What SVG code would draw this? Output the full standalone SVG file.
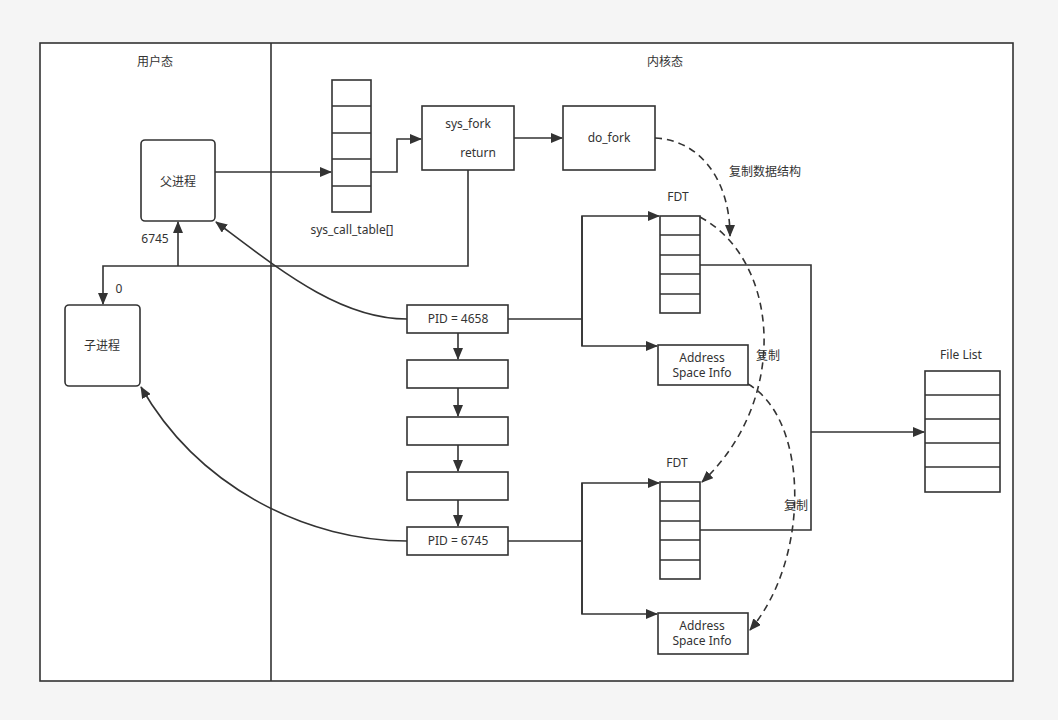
<svg xmlns="http://www.w3.org/2000/svg" width="1058" height="720" viewBox="0 0 1058 720">
<style>
.ln{fill:none;stroke:#333;stroke-width:1.6}
.ds{fill:none;stroke:#333;stroke-width:1.6;stroke-dasharray:7 5}
.bx{fill:#fff;stroke:#333;stroke-width:1.6}
text{font-family:"Noto Sans","Noto Sans CJK SC",sans-serif;font-size:12px;fill:#333;text-anchor:middle}
</style>
<defs>
<marker id="ah" markerWidth="12" markerHeight="10" refX="11" refY="5" orient="auto" markerUnits="userSpaceOnUse">
<path d="M0,0 L12,5 L0,10 Z" fill="#333"/>
</marker>
</defs>
<rect x="0" y="0" width="1058" height="720" fill="#f5f5f5"/>
<rect x="40" y="43" width="973" height="638" fill="#fff" stroke="#333" stroke-width="1.6"/>
<line x1="271" y1="43" x2="271" y2="681" stroke="#333" stroke-width="1.6"/>
<text x="155" y="66">用户态</text>
<text x="665" y="66">内核态</text>

<g id="parent"><rect class="bx" x="141" y="140" width="74" height="81" rx="4"/><text x="178" y="186">父进程</text></g>
<g id="child"><rect class="bx" x="65" y="305" width="75" height="81" rx="4"/><text x="102" y="350">子进程</text></g>
<g id="syscalltable">
<rect class="bx" x="332" y="80" width="39" height="132"/>
<path class="ln" d="M332,106H371M332,133H371M332,159H371M332,186H371"/>
<text x="352" y="234">sys_call_table[]</text>
</g>
<g id="sysfork"><rect class="bx" x="422" y="106" width="92" height="64"/><text x="468" y="128">sys_fork</text><text x="478" y="157">return</text></g>
<g id="dofork"><rect class="bx" x="563" y="106" width="92" height="64"/><text x="609" y="142">do_fork</text></g>
<g id="pid4658"><rect class="bx" x="407" y="305" width="101" height="28"/><text x="458" y="323">PID = 4658</text></g>
<g id="task1"><rect class="bx" x="407" y="360" width="101" height="28"/></g>
<g id="task2"><rect class="bx" x="407" y="417" width="101" height="28"/></g>
<g id="task3"><rect class="bx" x="407" y="472" width="101" height="28"/></g>
<g id="pid6745"><rect class="bx" x="407" y="527" width="101" height="28"/><text x="458" y="545">PID = 6745</text></g>
<g id="fdt1">
<text x="678" y="201">FDT</text>
<rect class="bx" x="660" y="216" width="40" height="97"/>
<path class="ln" d="M660,235H700M660,255H700M660,274H700M660,294H700"/>
</g>
<g id="fdt2">
<text x="677" y="467">FDT</text>
<rect class="bx" x="660" y="482" width="40" height="97"/>
<path class="ln" d="M660,501H700M660,521H700M660,540H700M660,560H700"/>
</g>
<g id="asi1"><rect class="bx" x="658" y="345" width="90" height="40"/><text x="702" y="362">Address</text><text x="702" y="377">Space Info</text></g>
<g id="asi2"><rect class="bx" x="658" y="613" width="90" height="41"/><text x="702" y="630">Address</text><text x="702" y="645">Space Info</text></g>
<g id="filelist">
<text x="961" y="359">File List</text>
<rect class="bx" x="925" y="371" width="75" height="121"/>
<path class="ln" d="M925,395H1000M925,419H1000M925,443H1000M925,467H1000"/>
</g>

<g id="connectors">
<path class="ln" d="M215,172H331" marker-end="url(#ah)"/>
<path class="ln" d="M371,172H397V139H421" marker-end="url(#ah)"/>
<path class="ln" d="M514,138H562" marker-end="url(#ah)"/>
<path class="ln" d="M468,170V266H103V304" marker-end="url(#ah)"/>
<path class="ln" d="M178,266V222" marker-end="url(#ah)"/>
<path class="ln" d="M407,319C340,319 280,270 216,222" marker-end="url(#ah)"/>
<path class="ln" d="M407,541C310,541 200,490 141,387" marker-end="url(#ah)"/>
<path class="ln" d="M458,333V359" marker-end="url(#ah)"/>
<path class="ln" d="M458,388V416" marker-end="url(#ah)"/>
<path class="ln" d="M458,445V471" marker-end="url(#ah)"/>
<path class="ln" d="M458,500V526" marker-end="url(#ah)"/>
<path class="ln" d="M508,319H582"/>
<path class="ln" d="M582,346V216H659" marker-end="url(#ah)"/>
<path class="ln" d="M582,216V346H657" marker-end="url(#ah)"/>
<path class="ln" d="M508,541H582"/>
<path class="ln" d="M582,614V483H659" marker-end="url(#ah)"/>
<path class="ln" d="M582,483V614H657" marker-end="url(#ah)"/>
<path class="ln" d="M700,265H811V530H700"/>
<path class="ln" d="M811,432H924" marker-end="url(#ah)"/>
<path class="ds" d="M655,138C700,140 730,180 730,236" marker-end="url(#ah)"/>
<path class="ds" d="M700,217C780,260 790,400 702,482" marker-end="url(#ah)"/>
<path class="ds" d="M748,384C810,420 810,560 750,630" marker-end="url(#ah)"/>
<text x="765" y="176">复制数据结构</text>
<text x="768" y="360">复制</text>
<text x="796" y="510">复制</text>
<text x="155" y="243">6745</text>
<text x="119" y="293">0</text>
</g>
</svg>
